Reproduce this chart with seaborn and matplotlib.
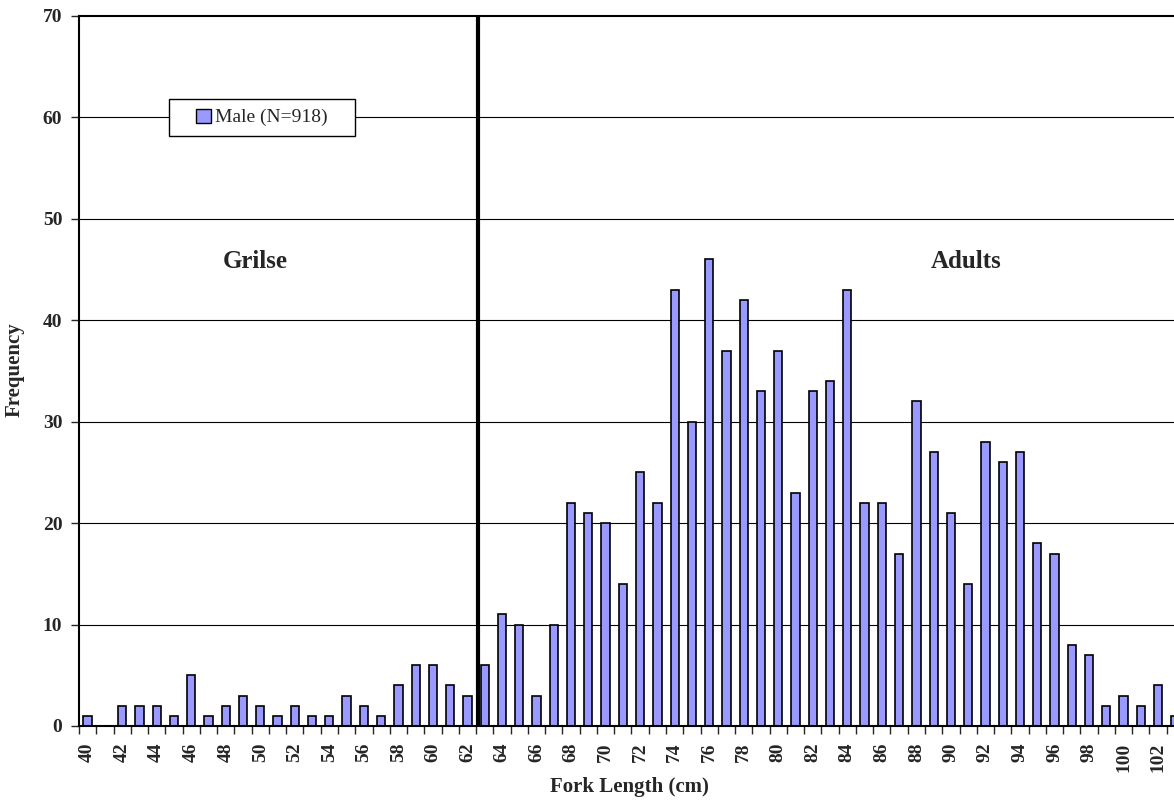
import numpy as np
import pandas as pd
import matplotlib
matplotlib.use("Agg")
import matplotlib.pyplot as plt
import seaborn as sns
from matplotlib.patches import Patch, Rectangle

# fork length classes (cm) and counts
lengths = list(range(40, 104))
counts = [1, 0, 2, 2, 2, 1, 5, 1, 2, 3, 2, 1, 2, 1, 1, 3, 2, 1, 4, 6, 6, 4, 3,
          6, 11, 10, 3, 10, 22, 21, 20, 14, 25, 22, 43, 30, 46, 37, 42, 33, 37,
          23, 33, 34, 43, 22, 22, 17, 32, 27, 21, 14, 28, 26, 27, 18, 17, 8, 7,
          2, 3, 2, 4, 1]
y_ticks = [0, 10, 20, 30, 40, 50, 60, 70]
legend_label = "Male (N=918)"

df = pd.DataFrame({"length": [str(v) for v in lengths], "count": counts})

sns.set_style("ticks")
plt.rcParams['font.family'] = ['Liberation Serif', 'DejaVu Serif']

W, H = 1174, 802
fig = plt.figure(figsize=(W / 100, H / 100), dpi=100)
ax = fig.add_axes([79 / W, 76 / H, 1105 / W, 710 / H])

# grid lines behind bars
for t in y_ticks[1:-1]:
    ax.axhline(t, color="black", lw=0.8, zorder=0)

sns.barplot(data=df, x="length", y="count", color="#9999FF", width=0.48,
            edgecolor="black", linewidth=1.2, saturation=1, ax=ax, zorder=2)

ax.set_xlim(-0.5, len(lengths) - 0.5)
ax.set_ylim(0, 70)
ax.set_yticks(y_ticks)
ax.set_yticklabels([str(t) for t in y_ticks], fontsize=14, fontweight="bold")
ax.tick_params(axis="y", direction="out", length=6, width=1, pad=6)

# tick marks between categories, labels on every second class
n = len(lengths)
ax.set_xticks(np.arange(n + 1) - 0.5)
ax.set_xticklabels([])
ax.tick_params(axis="x", which="major", direction="out", length=6, width=1)
lab_pos = [i for i, v in enumerate(lengths) if v % 2 == 0]
ax.set_xticks(lab_pos, minor=True)
ax.set_xticklabels([str(lengths[i]) for i in lab_pos], minor=True,
                   rotation=90, fontsize=14, fontweight="bold")
ax.tick_params(axis="x", which="minor", length=0, pad=12)

for s in ["left", "bottom", "top"]:
    ax.spines[s].set_linewidth(1.5)
    ax.spines[s].set_color("black")
ax.spines["right"].set_visible(False)
ax.set_xlabel("")
ax.set_ylabel("")

# grilse / adult divider
ax.axvline(22.6, color="black", lw=3, zorder=3)
ax.text(9.7, 45.8, "Grilse", ha="center", va="center", fontsize=18, fontweight="bold")
ax.text(50.9, 45.8, "Adults", ha="center", va="center", fontsize=18, fontweight="bold")

# legend box (wide white frame like the original)
box = Rectangle((169 / W, 1 - 136 / H), 186 / W, 37 / H, transform=fig.transFigure,
                facecolor="white", edgecolor="black", linewidth=1, zorder=4)
fig.patches.append(box)
handle = Patch(facecolor="#9999FF", edgecolor="black", linewidth=1)
leg = fig.legend([handle], [legend_label], loc="center",
                 bbox_to_anchor=(262 / W, 1 - 117.5 / H), fontsize=14,
                 frameon=False, handlelength=0.75, handleheight=0.75,
                 handletextpad=0.2, borderpad=0, borderaxespad=0)
leg.set_zorder(5)

fig.text(629 / W, 1 - 787 / H, "Fork Length (cm)", ha="center", va="center",
         fontsize=15, fontweight="bold")
fig.text(15 / W, 1 - 370 / H, "Frequency", ha="center", va="center",
         rotation=90, fontsize=15, fontweight="bold")

fig.savefig("out.png", dpi=100)
